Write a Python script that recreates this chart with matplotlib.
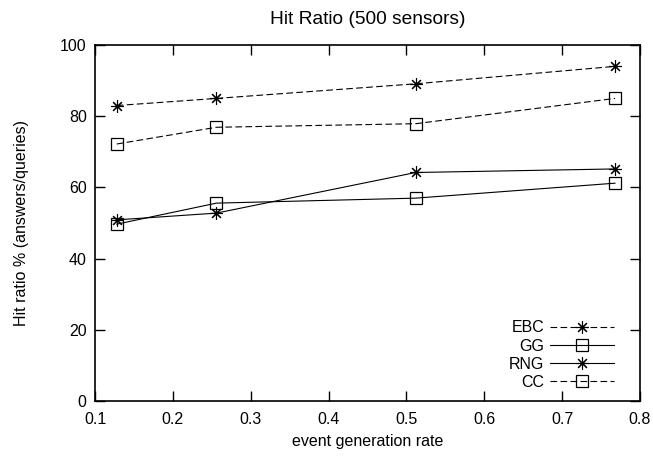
import matplotlib.pyplot as plt

# event generation rate
rates = [0.128, 0.256, 0.512, 0.768]

# hit ratio % per scheme
ebc = [83.0, 85.0, 89.1, 94.0]
gg = [49.7, 55.6, 57.0, 61.2]
rng = [50.9, 52.8, 64.2, 65.2]
cc = [72.2, 76.9, 77.9, 85.0]

plt.rcParams['font.family'] = ['Liberation Sans', 'DejaVu Sans']
plt.rcParams['font.size'] = 11.5

fig = plt.figure(figsize=(6.53, 4.59), dpi=100)
ax = fig.add_axes([0.1455, 0.126, 0.8345, 0.776])

star = (8, 2, 0)
dash = (0, (6, 3))
ax.plot(rates, ebc, color='black', lw=0.8, linestyle=dash, marker=star,
        markersize=9, markeredgewidth=0.8, label='EBC')
ax.plot(rates, gg, color='black', lw=0.8, marker='s', fillstyle='none',
        markersize=8, markeredgewidth=0.9, label='GG')
ax.plot(rates, rng, color='black', lw=0.8, marker=star,
        markersize=9, markeredgewidth=0.8, label='RNG')
ax.plot(rates, cc, color='black', lw=0.8, linestyle=dash, marker='s', fillstyle='none',
        markersize=8, markeredgewidth=0.9, label='CC')

ax.set_xlim(0.1, 0.8)
ax.set_ylim(0, 100)
ax.set_xticks([0.1, 0.2, 0.3, 0.4, 0.5, 0.6, 0.7, 0.8])
ax.set_yticks([0, 20, 40, 60, 80, 100])
ax.tick_params(direction='in', top=True, right=True, length=7, width=1)
ax.tick_params(axis='x', pad=8)
ax.tick_params(axis='y', pad=6)
for s in ax.spines.values():
    s.set_linewidth(1.2)

ax.set_title('Hit Ratio (500 sensors)', pad=15)
ax.set_xlabel('event generation rate', labelpad=5)
ax.set_ylabel('Hit ratio % (answers/queries)', labelpad=22)

leg = ax.legend(loc='lower right', frameon=False, markerfirst=False,
                handlelength=4.0, handletextpad=0.35, labelspacing=0.2,
                borderaxespad=0.3, borderpad=0.4)
leg.set_bbox_to_anchor((0.972, 0.0), transform=ax.transAxes)

fig.savefig('out.png', dpi=100)
